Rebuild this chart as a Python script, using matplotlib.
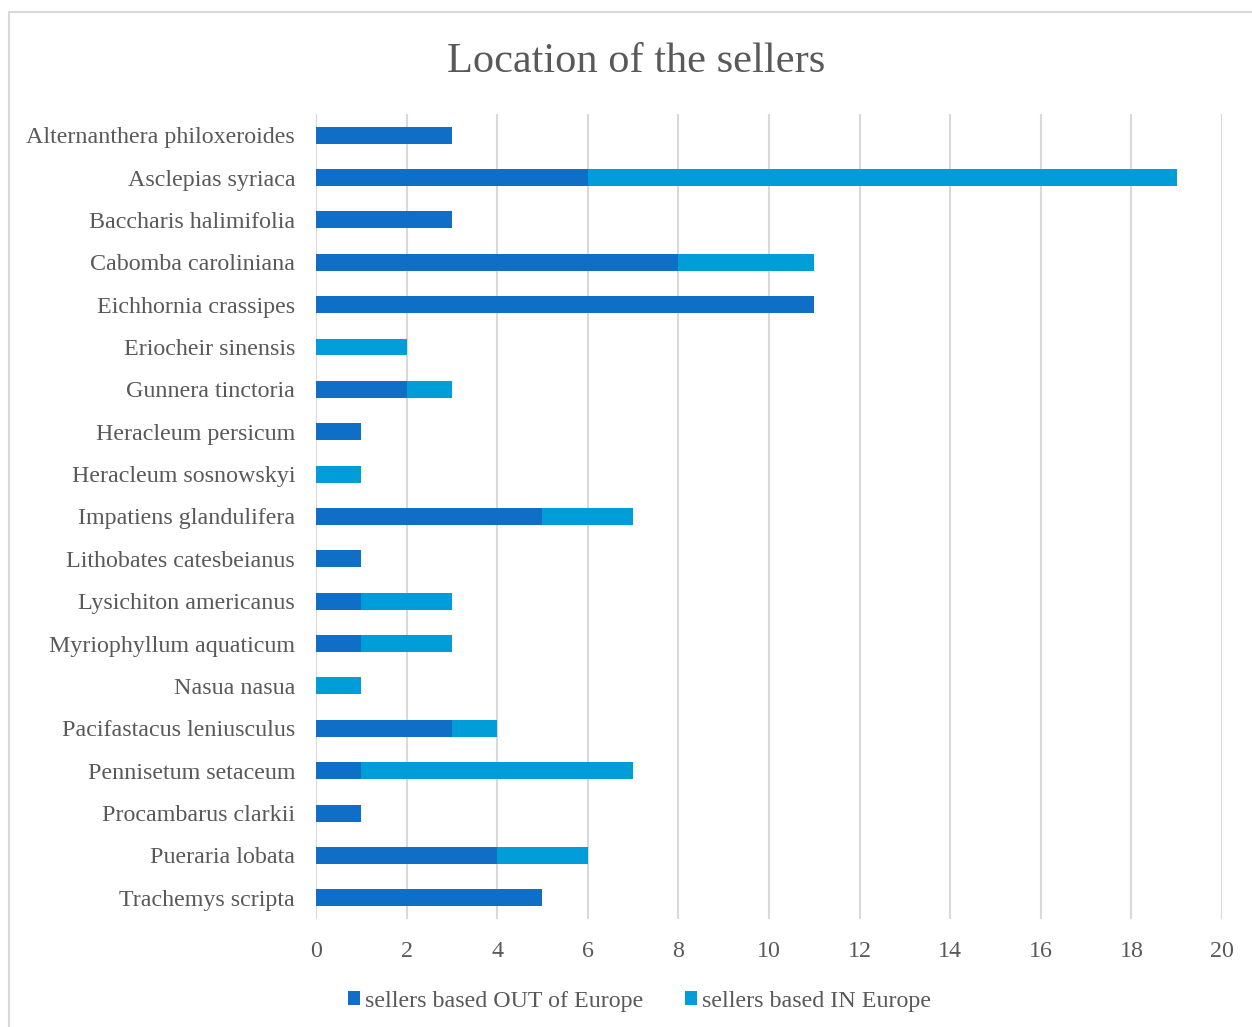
import matplotlib.pyplot as plt
from matplotlib.patches import Rectangle

species = [
    "Alternanthera philoxeroides", "Asclepias syriaca", "Baccharis halimifolia",
    "Cabomba caroliniana", "Eichhornia crassipes", "Eriocheir sinensis",
    "Gunnera tinctoria", "Heracleum persicum", "Heracleum sosnowskyi",
    "Impatiens glandulifera", "Lithobates catesbeianus", "Lysichiton americanus",
    "Myriophyllum aquaticum", "Nasua nasua", "Pacifastacus leniusculus",
    "Pennisetum setaceum", "Procambarus clarkii", "Pueraria lobata",
    "Trachemys scripta",
]
out_europe = [3, 6, 3, 8, 11, 0, 2, 1, 0, 5, 1, 1, 1, 0, 3, 1, 1, 4, 5]
in_europe = [0, 13, 0, 3, 0, 2, 1, 0, 1, 2, 0, 2, 2, 1, 1, 6, 0, 2, 0]
xticks = list(range(0, 21, 2))

dark_blue = "#0F6FC6"
light_blue = "#009DD9"
text_col = "#595959"
grid_col = "#D9D9D9"
fs = 17.3

plt.rcParams["font.family"] = ["Liberation Serif", "DejaVu Serif"]

fig = plt.figure(figsize=(12.52, 10.27), dpi=100)
ax = fig.add_axes([0.2524, 0.1052, 0.7236, 0.7838])

pos = list(range(len(species)))
ax.barh(pos, out_europe, height=0.4, color=dark_blue,
        label="sellers based OUT of Europe", zorder=3)
ax.barh(pos, in_europe, left=out_europe, height=0.4, color=light_blue,
        label="sellers based IN Europe", zorder=3)

ax.set_yticks(pos)
ax.set_yticklabels(species)
ax.set_ylim(len(species) - 0.5, -0.5)
ax.set_xlim(0, 20)
ax.set_xticks(xticks)

ax.tick_params(axis="y", length=0, pad=15, labelsize=fs, labelcolor=text_col)
ax.tick_params(axis="x", length=0, pad=16, labelsize=fs, labelcolor=text_col)
ax.grid(axis="x", color=grid_col, linewidth=1.5, zorder=0)
for s in ax.spines.values():
    s.set_visible(False)

fig.text(0.508, 0.9400, "Location of the sellers", ha="center", va="center",
         fontsize=30.5, color=text_col)

fig.legend(loc="center", bbox_to_anchor=(0.511, 0.025), ncol=2, frameon=False,
           fontsize=fs, labelcolor=text_col, handlelength=0.5, handleheight=0.5,
           handletextpad=0.2, columnspacing=1.75)

# outer chart border
fig.patches.append(Rectangle((9 / 1252, -0.05), 1.1, 1 - 12 / 1027 + 0.05,
                             transform=fig.transFigure, fill=False,
                             edgecolor=grid_col, linewidth=1.5))

fig.savefig("out.png", dpi=100)
